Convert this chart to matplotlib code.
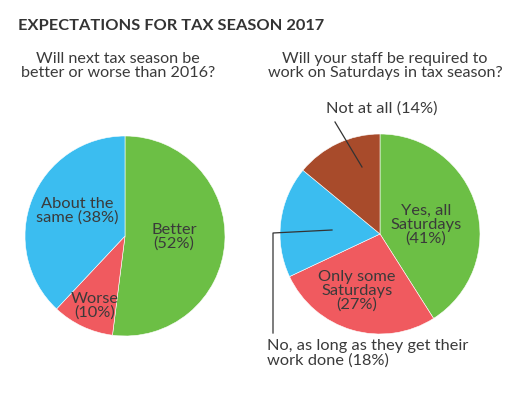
import matplotlib
matplotlib.use("Agg")
import matplotlib.pyplot as plt

plt.rcParams['font.family'] = ['Lato', 'DejaVu Sans']

# dados
titulo = "EXPECTATIONS FOR TAX SEASON 2017"
pergunta1 = "Will next tax season be\nbetter or worse than 2016?"
pergunta2 = "Will your staff be required to\nwork on Saturdays in tax season?"

rotulos1 = ["Better\n(52%)", "Worse\n(10%)", "About the\nsame (38%)"]
valores1 = [52, 10, 38]
cores1 = ["#6cbf45", "#f05a5f", "#3bbdf0"]

rotulos2 = ["Yes, all\nSaturdays\n(41%)", "Only some\nSaturdays\n(27%)",
            "No, as long as they get their\nwork done (18%)", "Not at all (14%)"]
valores2 = [41, 27, 18, 14]
cores2 = ["#6cbf45", "#f05a5f", "#3bbdf0", "#a84b2b"]

W, H = 531, 395
texto = "#3a3a3a"
tam = 11.8
fig = plt.figure(figsize=(W / 100, H / 100), dpi=100)

def eixo(cx, cy, r):
    ax = fig.add_axes([(cx - r) / W, 1 - (cy + r) / H, 2 * r / W, 2 * r / H])
    ax.axis("off")
    return ax

# pizza da esquerda
ax1 = eixo(125, 236, 100)
ax1.pie(valores1, colors=cores1, startangle=90, counterclock=False, radius=1,
        wedgeprops=dict(edgecolor="white", linewidth=0.4))
ax1.set_xlim(-1, 1); ax1.set_ylim(-1, 1)
pos1 = [(0.49, -0.01), (-0.30, -0.70), (-0.48, 0.25)]
for (x, y), t in zip(pos1, rotulos1):
    ax1.text(x, y, t, ha="center", va="center", fontsize=tam, color=texto,
             linespacing=1.0)

# pizza da direita
ax2 = eixo(380, 234, 100)
ax2.pie(valores2, colors=cores2, startangle=90, counterclock=False, radius=1,
        wedgeprops=dict(edgecolor="white", linewidth=0.4))
ax2.set_xlim(-1, 1); ax2.set_ylim(-1, 1)
ax2.text(0.46, 0.09, rotulos2[0], ha="center", va="center", fontsize=tam,
         color=texto, linespacing=1.0)
ax2.text(-0.23, -0.57, rotulos2[1], ha="center", va="center", fontsize=tam,
         color=texto, linespacing=1.0)

# linha "Not at all"
ax2.plot([-0.45, -0.18], [1.12, 0.67], color="#333333", lw=0.9, clip_on=False)
ax2.text(0.02, 1.25, rotulos2[3], ha="center", va="center", fontsize=tam,
         color=texto, clip_on=False)

# linha "No, as long as..."
ax2.plot([-0.48, -1.07, -1.07], [0.04, 0.01, -0.99], color="#333333", lw=0.9,
         clip_on=False)
ax2.text(-1.13, -1.05, rotulos2[2], ha="left", va="top", fontsize=tam,
         color=texto, linespacing=1.0, clip_on=False)

# titulos
fig.text(18 / W, 1 - 26 / H, titulo, ha="left", va="center", fontsize=11.8,
         fontweight="bold", color="#333333")
fig.text(118 / W, 1 - 66 / H, pergunta1, ha="center", va="center",
         fontsize=11.6, color=texto, linespacing=1.0)
fig.text(385 / W, 1 - 66 / H, pergunta2, ha="center", va="center",
         fontsize=11.6, color=texto, linespacing=1.0)

fig.savefig("out.png", dpi=100)
